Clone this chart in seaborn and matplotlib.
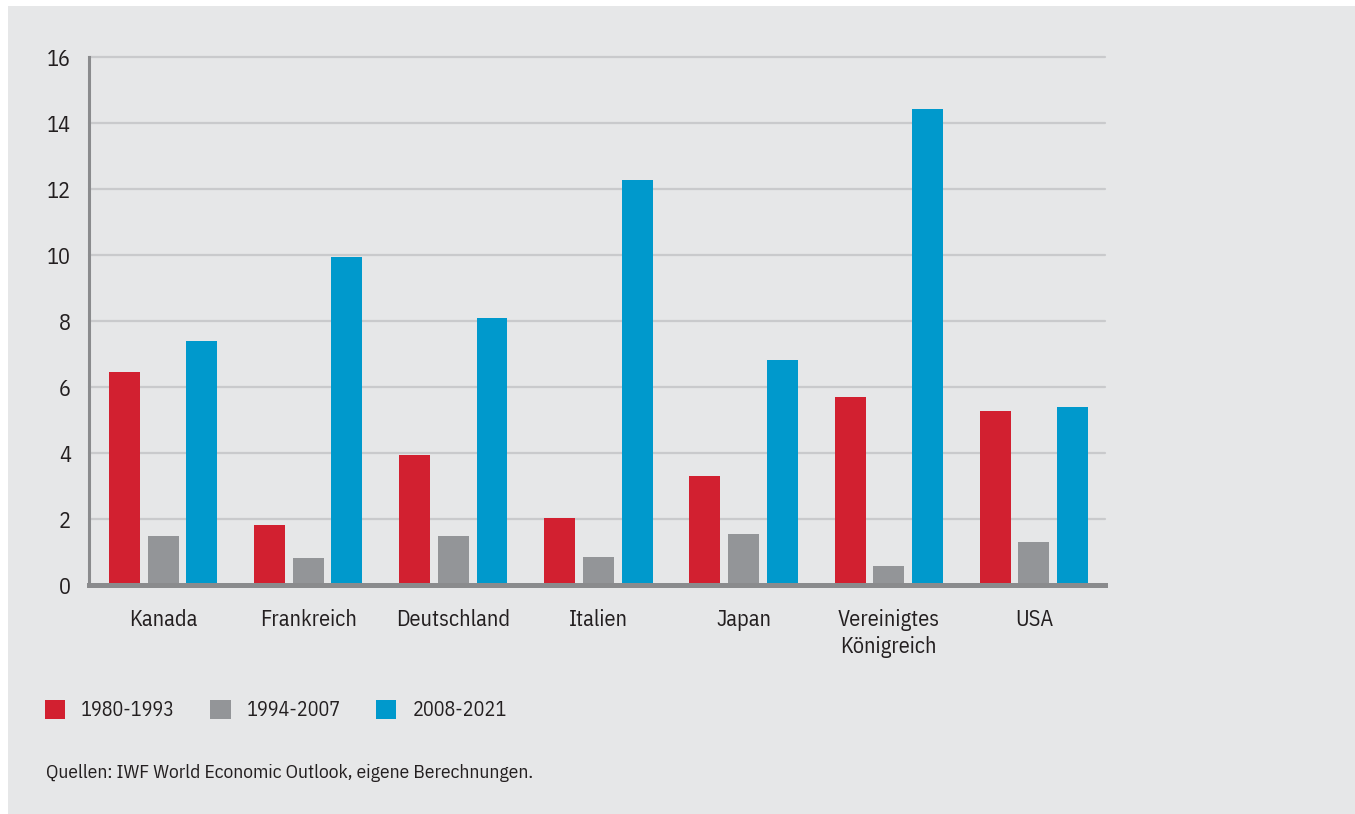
import matplotlib
matplotlib.use("Agg")
import matplotlib.pyplot as plt
import seaborn as sns
import pandas as pd
from matplotlib.patches import Rectangle

countries = ["Kanada", "Frankreich", "Deutschland", "Italien", "Japan",
             "Vereinigtes\nKönigreich", "USA"]
periods = ["1980-1993", "1994-2007", "2008-2021"]
v_1980_1993 = [6.45, 1.82, 3.94, 2.03, 3.30, 5.70, 5.27]
v_1994_2007 = [1.48, 0.82, 1.48, 0.85, 1.55, 0.58, 1.30]
v_2008_2021 = [7.39, 9.94, 8.09, 12.27, 6.82, 14.42, 5.39]
y_ticks = [0, 2, 4, 6, 8, 10, 12, 14, 16]
source_text = "Quellen: IWF World Economic Outlook, eigene Berechnungen."

colors = ["#D22030", "#939598", "#0099CC"]
bg = "#E6E7E8"
axis_col = "#8A8B8D"
grid_col = "#C9CACC"
text_col = "#231F20"

rows = []
for p, vals in zip(periods, [v_1980_1993, v_1994_2007, v_2008_2021]):
    for c, v in zip(countries, vals):
        rows.append({"Land": c, "Periode": p, "Wert": v})
df = pd.DataFrame(rows)

sns.set_theme(style="white")
plt.rcParams["font.family"] = ["IBM Plex Sans Condensed", "DejaVu Sans"]
plt.rcParams["text.color"] = text_col

fig = plt.figure(figsize=(13.55, 8.14), dpi=100, facecolor="white")
fig.patches.append(Rectangle((8 / 1355, 0), 1 - 8 / 1355, 1 - 6 / 814,
                             transform=fig.transFigure, facecolor=bg,
                             edgecolor="none", zorder=-10))
ax = fig.add_axes([89 / 1355, 229 / 814, (1105 - 89) / 1355, (757 - 229) / 814])
ax.set_facecolor(bg)

sns.barplot(data=df, x="Land", y="Wert", hue="Periode", order=countries,
            hue_order=periods, palette=colors, saturation=1, width=0.8,
            gap=0.2, ax=ax, zorder=3, linewidth=0, edgecolor="none")

ax.set_xlim(-0.51, len(countries) - 0.51)
ax.set_ylim(0, 16)
ax.set_yticks(y_ticks)
ax.set_yticklabels([str(t) for t in y_ticks])
ax.yaxis.grid(True, color=grid_col, linewidth=1.6, zorder=0)
for gl in ax.get_ygridlines():
    gl.set_clip_on(False)
ax.set_axisbelow(True)
ax.set_xlabel("")
ax.set_ylabel("")
ax.tick_params(axis="both", length=0, labelsize=16, colors=text_col)
ax.tick_params(axis="y", pad=13)
ax.tick_params(axis="x", pad=17)
for lbl in ax.get_xticklabels():
    lbl.set_linespacing(1.3)
for s in ["top", "right"]:
    ax.spines[s].set_visible(False)
ax.spines["left"].set_color(axis_col)
ax.spines["left"].set_linewidth(2.2)
ax.spines["bottom"].set_color(axis_col)
ax.spines["bottom"].set_linewidth(3.6)
ax.spines["left"].set_zorder(5)
ax.spines["bottom"].set_zorder(5)

handles, labels = ax.get_legend_handles_labels()
ax.get_legend().remove()
fig.legend(handles, labels, loc="center left",
           bbox_to_anchor=(45 / 1355, 104 / 814), bbox_transform=fig.transFigure,
           ncol=3, frameon=False, fontsize=14.5, handlelength=1.0,
           handleheight=1.1, handletextpad=0.8, columnspacing=1.75,
           borderpad=0, borderaxespad=0)

fig.text(46 / 1355, (814 - 773) / 814, source_text, fontsize=14,
         color=text_col, ha="left", va="center")

fig.savefig("out.png", dpi=100, facecolor="white")
